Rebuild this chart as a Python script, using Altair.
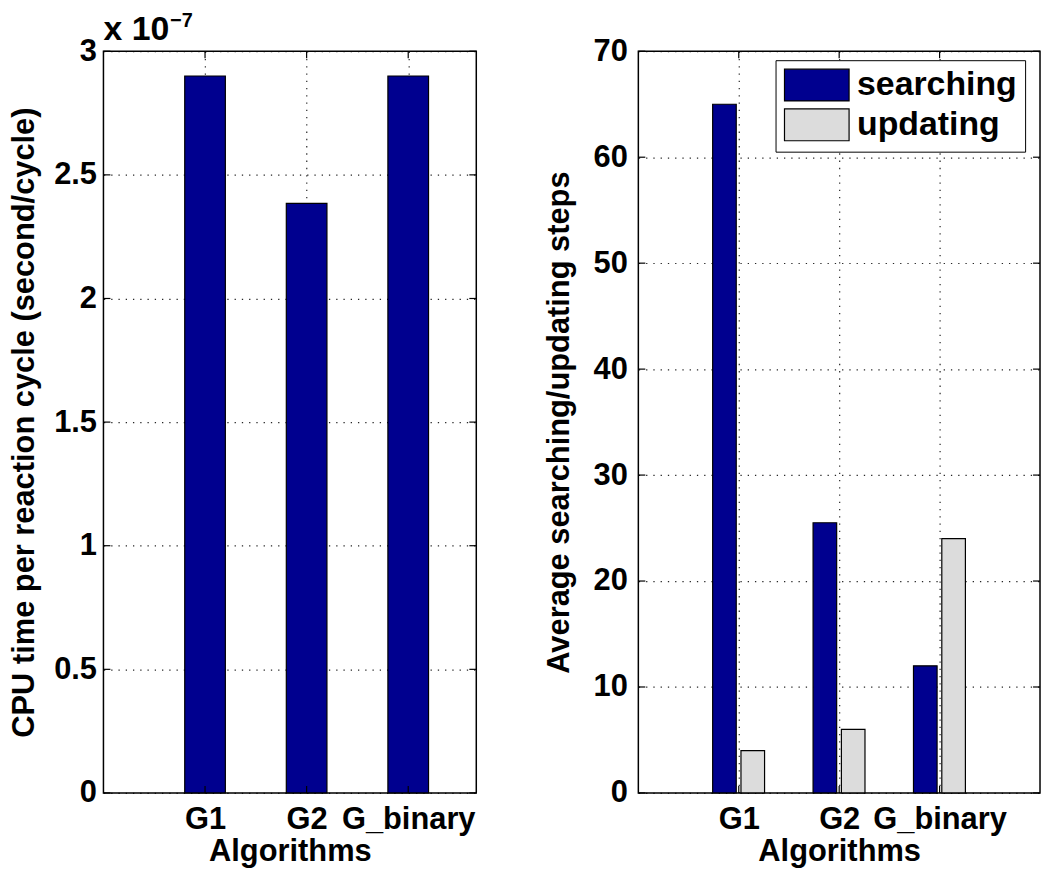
import altair as alt
import pandas as pd

# ---------------- data ----------------
algorithms = ["G1", "G2", "G_binary"]
positions = [1, 2, 3]
cpu_time = [2.9e-7, 2.385e-7, 2.9e-7]          # second/cycle
series = ["searching", "updating"]
searching = [65, 25.5, 12]
updating = [4, 6, 24]
left_yticks = [0, 0.5, 1, 1.5, 2, 2.5, 3]        # x 10^-7
right_yticks = [0, 10, 20, 30, 40, 50, 60, 70]
exponent_text = ["x 10"]
exponent_sup = ["\u22127"]

FONT = "Liberation Sans"
NAVY = "#00008F"
GREY = "#DCDCDC"
FS = 31

LW, LH = 375, 746
RW, RH = 404, 746
TICK = 7

label_expr = " : ".join(
    f"datum.value == {p} ? '{a}'" for p, a in zip(positions[:-1], algorithms[:-1])
) + f" : '{algorithms[-1]}'"

font_props = dict(labelFont=FONT, labelFontSize=FS, labelFontWeight="bold", labelColor="black",
                  titleFont=FONT, titleFontSize=FS, titleFontWeight="bold", titleColor="black")
grid_props = dict(grid=True, gridColor="#000000", gridDash=[1.3, 6], gridWidth=1.2,
                  gridOpacity=0.85, ticks=False, domain=False, **font_props)

x_axis = alt.Axis(values=positions, labelExpr=label_expr, title="Algorithms",
                  labelPadding=12, titlePadding=2, **grid_props)
yl_axis = alt.Axis(values=left_yticks, format="~g",
                   title="CPU time per reaction cycle (second/cycle)",
                   labelPadding=7, titlePadding=13, **grid_props)
yr_axis = alt.Axis(values=right_yticks, title="Average searching/updating steps",
                   labelPadding=11, titlePadding=18, **grid_props)

# ---------------- left panel ----------------
left_df = pd.DataFrame({"pos": positions, "alg": algorithms, "cpu": cpu_time})
xl_scale = alt.Scale(domain=[0, 3.67], nice=False, zero=False)
yl_scale = alt.Scale(domain=[0, 3], nice=False)

left_bars = alt.Chart(left_df).transform_calculate(
    val="datum.cpu * 1e7", x0="datum.pos - 0.2", x1="datum.pos + 0.2"
).mark_bar(color=NAVY, stroke="black", strokeWidth=1.2).encode(
    x=alt.X("x0:Q", scale=xl_scale, axis=x_axis),
    x2="x1:Q",
    y=alt.Y("val:Q", scale=yl_scale, axis=yl_axis),
    y2=alt.datum(0),
)

lyt = pd.DataFrame({"val": left_yticks})
lxt = pd.DataFrame({"x0": positions})
left_yt_l = alt.Chart(lyt).mark_rule(color="black", strokeWidth=1.2).encode(
    y=alt.Y("val:Q", scale=yl_scale, axis=yl_axis), x=alt.value(0), x2=alt.value(TICK))
left_yt_r = alt.Chart(lyt).mark_rule(color="black", strokeWidth=1.2).encode(
    y=alt.Y("val:Q", scale=yl_scale, axis=yl_axis), x=alt.value(LW - TICK), x2=alt.value(LW))
left_xt_b = alt.Chart(lxt).mark_rule(color="black", strokeWidth=1.2).encode(
    x=alt.X("x0:Q", scale=xl_scale, axis=x_axis), y=alt.value(LH), y2=alt.value(LH - TICK))
left_xt_t = alt.Chart(lxt).mark_rule(color="black", strokeWidth=1.2).encode(
    x=alt.X("x0:Q", scale=xl_scale, axis=x_axis), y=alt.value(0), y2=alt.value(TICK))

exp_main = alt.Chart(pd.DataFrame({"t": exponent_text})).mark_text(
    font=FONT, fontSize=34, fontWeight="bold", align="left", baseline="alphabetic"
).encode(text="t:N", x=alt.value(0), y=alt.value(-11))
exp_sup = alt.Chart(pd.DataFrame({"t": exponent_sup})).mark_text(
    font=FONT, fontSize=20, fontWeight="bold", align="left", baseline="alphabetic"
).encode(text="t:N", x=alt.value(67), y=alt.value(-24))

left = alt.layer(left_bars, left_yt_l, left_yt_r, left_xt_b, left_xt_t, exp_main, exp_sup
                 ).properties(width=LW, height=LH)

# ---------------- right panel ----------------
right_df = pd.DataFrame({
    "pos": positions * 2,
    "alg": algorithms * 2,
    "series": [series[0]] * 3 + [series[1]] * 3,
    "steps": searching + updating,
})
xr_scale = alt.Scale(domain=[0, 4], nice=False, zero=False)
yr_scale = alt.Scale(domain=[0, 70], nice=False)

right_bars = alt.Chart(right_df).transform_calculate(
    x0=f"datum.series == '{series[0]}' ? datum.pos - 0.26 : datum.pos + 0.022",
    x1=f"datum.series == '{series[0]}' ? datum.pos - 0.025 : datum.pos + 0.257",
).mark_bar(stroke="black", strokeWidth=1.2, opacity=1).encode(
    x=alt.X("x0:Q", scale=xr_scale, axis=x_axis),
    x2="x1:Q",
    y=alt.Y("steps:Q", scale=yr_scale, axis=yr_axis),
    y2=alt.datum(0),
    color=alt.Color("series:N", scale=alt.Scale(domain=series, range=[NAVY, GREY]),
                    legend=alt.Legend(
                        title=None, orient="none", legendX=676, legendY=9,
                        symbolType="M-1,-1H3.06V1H-1Z", symbolSize=1024,
                        symbolStrokeColor="black", symbolStrokeWidth=1.2,
                        symbolOpacity=1,
                        labelFont=FONT, labelFontSize=34, labelFontWeight="bold",
                        labelColor="black", labelOffset=40, labelLimit=400,
                        strokeColor="black", fillColor="white", padding=8,
                        rowPadding=2)),
)

ryt = pd.DataFrame({"steps": right_yticks})
rxt = pd.DataFrame({"x0": positions})
right_yt_l = alt.Chart(ryt).mark_rule(color="black", strokeWidth=1.2).encode(
    y=alt.Y("steps:Q", scale=yr_scale, axis=yr_axis), x=alt.value(0), x2=alt.value(TICK))
right_yt_r = alt.Chart(ryt).mark_rule(color="black", strokeWidth=1.2).encode(
    y=alt.Y("steps:Q", scale=yr_scale, axis=yr_axis), x=alt.value(RW - TICK), x2=alt.value(RW))
right_xt_b = alt.Chart(rxt).mark_rule(color="black", strokeWidth=1.2).encode(
    x=alt.X("x0:Q", scale=xr_scale, axis=x_axis), y=alt.value(RH), y2=alt.value(RH - TICK))
right_xt_t = alt.Chart(rxt).mark_rule(color="black", strokeWidth=1.2).encode(
    x=alt.X("x0:Q", scale=xr_scale, axis=x_axis), y=alt.value(0), y2=alt.value(TICK))
# invisible spacer so both plot areas start at the same height
spacer = alt.Chart(pd.DataFrame({"t": exponent_text})).mark_text(
    font=FONT, fontSize=34, fontWeight="bold", align="left", baseline="alphabetic", opacity=0
).encode(text="t:N", x=alt.value(0), y=alt.value(-11))
spacer2 = alt.Chart(pd.DataFrame({"t": exponent_sup})).mark_text(
    font=FONT, fontSize=20, fontWeight="bold", align="left", baseline="alphabetic", opacity=0
).encode(text="t:N", x=alt.value(67), y=alt.value(-24))

right = alt.layer(right_bars, right_yt_l, right_yt_r, right_xt_b, right_xt_t, spacer, spacer2
                  ).properties(width=RW, height=RH)

chart = alt.hconcat(left, right, spacing=64).properties(
    padding=0, background="white"
).configure_view(stroke="black", strokeWidth=1.5)

chart.save("out.html", embed_options={"renderer": "svg", "actions": False})
